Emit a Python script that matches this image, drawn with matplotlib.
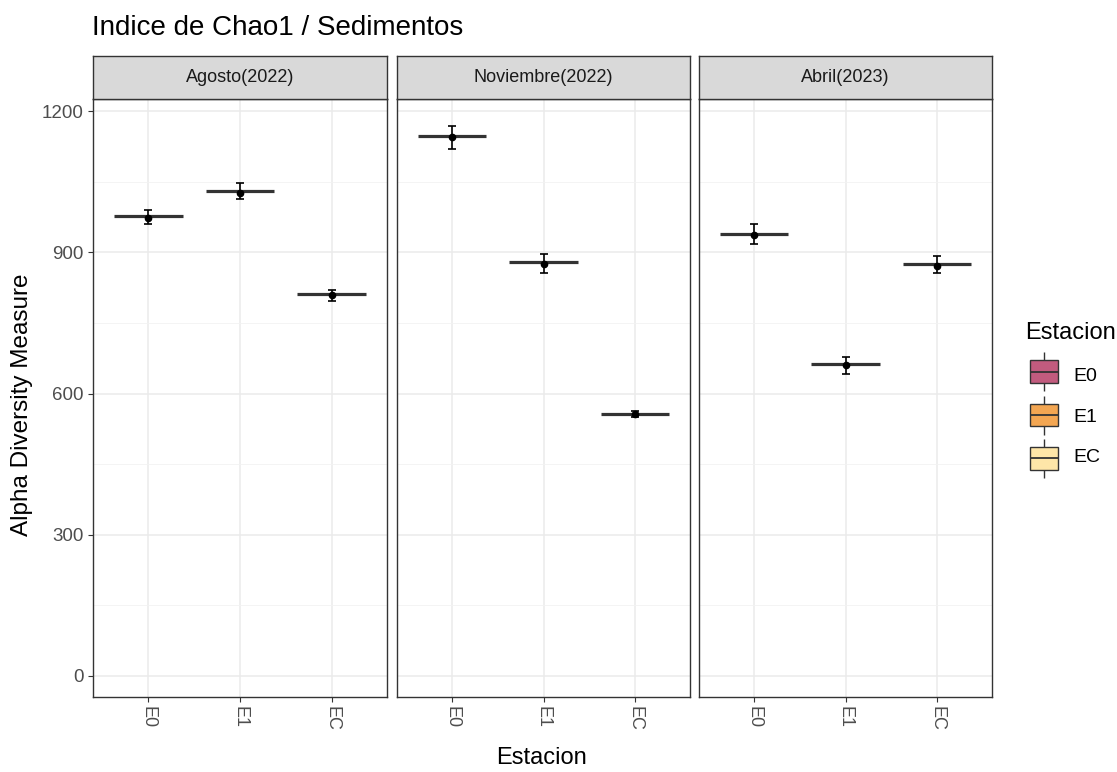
import numpy as np
import matplotlib.pyplot as plt
from matplotlib.patches import Rectangle

plt.rcParams['font.family'] = ['Liberation Sans', 'DejaVu Sans']

meses = ["Agosto(2022)", "Noviembre(2022)", "Abril(2023)"]
estaciones = ["E0", "E1", "EC"]
colores = ["#C25B7E", "#F3A652", "#FEE6A8"]

# linea de la caja (mediana), punto (media) y extremos de la barra de error
mediana = [[977, 1030, 811], [1148, 879, 557], [940, 663, 875]]
media = [[974, 1027, 809], [1145, 876, 556], [937, 660, 872]]
err_sup = [[991, 1047, 820], [1169, 896, 562], [960, 678, 892]]
err_inf = [[960, 1013, 797], [1119, 857, 551], [918, 642, 857]]

yticks = [0, 300, 600, 900, 1200]

W, H = 1117, 772
fig = plt.figure(figsize=(W / 100, H / 100), dpi=100)

def fx(px):
    return px / W

def fy(py):
    return 1 - py / H

panel_x = [(93, 387), (397, 690), (699, 992)]
top_strip, top_panel, bot_panel = 56, 99, 697
x = np.arange(1, len(estaciones) + 1)

for k, (x0, x1) in enumerate(panel_x):
    ax = fig.add_axes([fx(x0), fy(bot_panel), fx(x1 - x0), (bot_panel - top_panel) / H])
    ax.set_xlim(0.4, 3.6)
    ax.set_ylim(-45, 1226)
    ax.set_yticks(yticks)
    ax.set_yticks([150, 450, 750, 1050], minor=True)
    ax.set_xticks(x)
    ax.set_xticklabels(estaciones, rotation=270, color="#4D4D4D", fontsize=13)
    ax.grid(True, which="major", color="#EBEBEB", lw=1.1, zorder=0)
    ax.grid(True, which="minor", axis="y", color="#F2F2F2", lw=0.6, zorder=0)
    ax.tick_params(which="minor", length=0)
    ax.tick_params(which="major", length=3.5, color="#333333", width=0.8, pad=3)
    if k == 0:
        ax.set_yticklabels([str(v) for v in yticks], color="#4D4D4D", fontsize=13.5)
    else:
        ax.tick_params(axis="y", which="major", length=0, labelleft=False)
    for s in ax.spines.values():
        s.set_color("#333333")
        s.set_linewidth(1.0)
    ax.set_axisbelow(True)

    ax.hlines(mediana[k], x - 0.375, x + 0.375, color="#333333", lw=2.3, zorder=3)
    m = np.array(media[k])
    ax.errorbar(x, m, yerr=[m - np.array(err_inf[k]), np.array(err_sup[k]) - m],
                fmt="o", color="black", ms=4.5, capsize=3, elinewidth=1.2,
                capthick=1.2, zorder=4)

    sax = fig.add_axes([fx(x0), fy(top_panel), fx(x1 - x0), (top_panel - top_strip) / H])
    sax.set_facecolor("#D9D9D9")
    sax.set_xticks([])
    sax.set_yticks([])
    for s in sax.spines.values():
        s.set_color("#333333")
        s.set_linewidth(1.0)
    sax.text(0.5, 0.5, meses[k], ha="center", va="center", fontsize=13,
             color="#1A1A1A", transform=sax.transAxes)

fig.text(fx(92), fy(28), "Indice de Chao1 / Sedimentos", fontsize=20,
         ha="left", va="center", color="black")
fig.text(fx(542), fy(758), "Estacion", fontsize=17, ha="center", va="center")
fig.text(fx(22), fy(405), "Alpha Diversity Measure", fontsize=17.5, ha="center",
         va="center", rotation=90)

# leyenda
fig.text(fx(1025), fy(333), "Estacion", fontsize=17, ha="left", va="center")
lax = fig.add_axes([fx(1026), fy(480), fx(36), 130 / H])
lax.set_xlim(0, 1)
lax.set_ylim(0, len(estaciones))
lax.axis("off")
for i, (e, c) in enumerate(zip(estaciones, colores)):
    yc = len(estaciones) - i - 0.5
    lax.vlines(0.5, yc - 0.45, yc + 0.45, color="#333333", lw=1)
    lax.add_patch(Rectangle((0.12, yc - 0.26), 0.76, 0.52, facecolor=c,
                            edgecolor="#333333", lw=1, zorder=3))
    lax.hlines(yc, 0.12, 0.88, color="#333333", lw=1.3, zorder=4)
    fig.text(fx(1073), fy(377 + 40 * i), e, fontsize=14, ha="left", va="center")

fig.savefig("out.png", dpi=100)
